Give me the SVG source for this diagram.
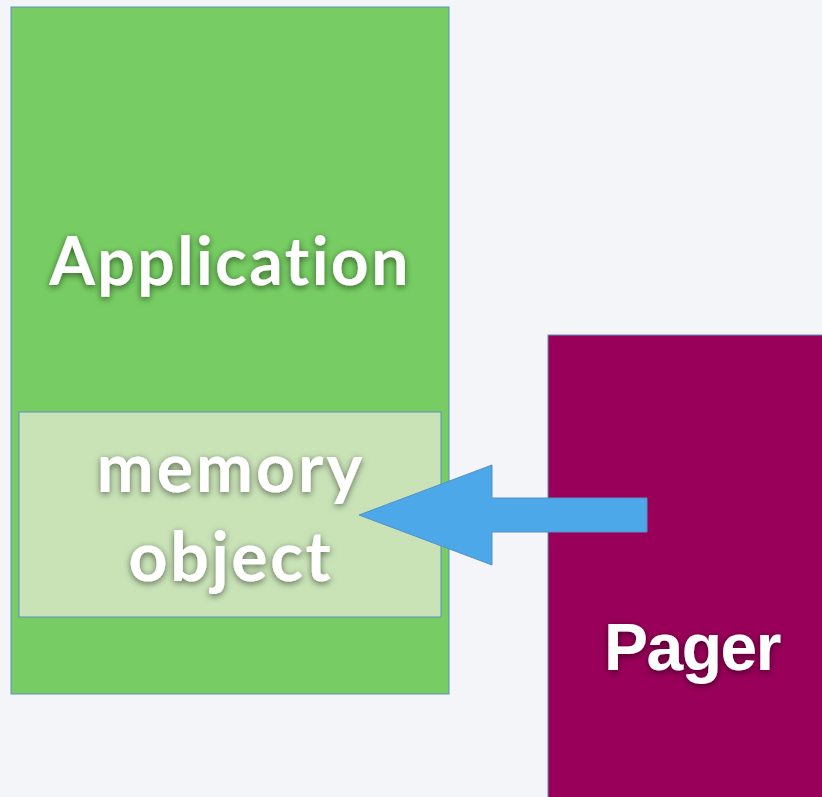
<svg xmlns="http://www.w3.org/2000/svg" width="822" height="797" viewBox="0 0 822 797">
  <defs>
    <filter id="shadow" x="-20%" y="-40%" width="140%" height="180%">
      <feDropShadow dx="0" dy="2" stdDeviation="3.5" flood-color="#000" flood-opacity="0.55"/>
    </filter>
  </defs>
  <style>
    .box { stroke: #5a8fc4; stroke-width: 1; }
    .label { fill: #ffffff; font-weight: bold; text-anchor: middle; filter: url(#shadow); font-variant-ligatures: none; }
    .geo { font-family: Lato, "Noto Sans", sans-serif; }
    .sans { font-family: "Liberation Sans", Arial, sans-serif; }
  </style>
  <rect width="822" height="797" fill="#f3f5f8"/>

  <g id="application">
    <rect class="box" x="11" y="7" width="438" height="687" fill="#77cd63"/>
    <text class="label geo" x="230" y="285" font-size="66" letter-spacing="2.4">Application</text>
  </g>

  <g id="memory-object">
    <rect class="box" x="19" y="412" width="422" height="205" fill="#c9e3b7"/>
    <text class="label geo" x="231" y="492" font-size="68" letter-spacing="3">memory</text>
    <text class="label geo" x="231" y="581" font-size="68" letter-spacing="2.6">object</text>
  </g>

  <g id="pager">
    <rect class="box" x="548" y="335" width="280" height="470" fill="#990059"/>
    <text class="label sans" x="692" y="670" font-size="66" letter-spacing="-1.5">Pager</text>
  </g>

  <g id="connectors">
    <polygon class="box" fill="#4da8ea" points="359,515 492,465 492,498 647,498 647,532 492,532 492,565"/>
  </g>
</svg>
